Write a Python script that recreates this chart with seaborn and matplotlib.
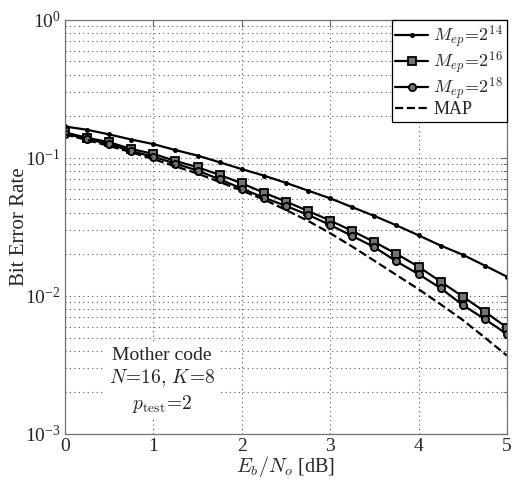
import numpy as np
import pandas as pd
import matplotlib
matplotlib.use("Agg")
import matplotlib.pyplot as plt
import seaborn as sns
from matplotlib.ticker import LogLocator, NullFormatter, FixedLocator

ebno = [0, 0.25, 0.5, 0.75, 1.0, 1.25, 1.5, 1.75, 2.0, 2.25, 2.5, 2.75,
        3.0, 3.25, 3.5, 3.75, 4.0, 4.25, 4.5, 4.75, 5.0]
ber_m14 = [0.169, 0.160, 0.148, 0.136, 0.126, 0.114, 0.104, 0.093, 0.083,
           0.0745, 0.066, 0.058, 0.051, 0.044, 0.038, 0.0325, 0.0275,
           0.0232, 0.0199, 0.0166, 0.0138]
ber_m16 = [0.153, 0.140, 0.130, 0.116, 0.107, 0.095, 0.0857, 0.0753, 0.0655,
           0.056, 0.0483, 0.0413, 0.0352, 0.0296, 0.0246, 0.0202, 0.0163,
           0.0127, 0.0099, 0.0077, 0.0059]
ber_m18 = [0.150, 0.137, 0.126, 0.112, 0.102, 0.091, 0.081, 0.070, 0.060,
           0.0516, 0.0449, 0.0387, 0.0327, 0.0272, 0.0226, 0.0178, 0.0144,
           0.0114, 0.0086, 0.0068, 0.0053]
ber_map = [0.148, 0.135, 0.122, 0.110, 0.098, 0.087, 0.077, 0.067, 0.058,
           0.050, 0.042, 0.035, 0.0285, 0.0228, 0.018, 0.0142, 0.0112,
           0.0087, 0.0067, 0.0050, 0.0037]
labels = [r"$M_{ep}\!=\!2^{14}$", r"$M_{ep}\!=\!2^{16}$", r"$M_{ep}\!=\!2^{18}$", "MAP"]
x_ticks = [0, 1, 2, 3, 4, 5]

sns.set_style("white")
plt.rcParams["font.family"] = ["Liberation Serif", "DejaVu Serif"]
plt.rcParams["mathtext.fontset"] = "cm"

fig = plt.figure(figsize=(5.12, 4.86), dpi=100)
ax = fig.add_axes([0.127, 0.107, 0.863, 0.852])

series = [ber_m14, ber_m16, ber_m18, ber_map]
styles = [
    dict(marker="o", markersize=2.8, linestyle="-", mfc="black", mec="black"),
    dict(marker="s", markersize=5.2, linestyle="-", mfc="0.45", mec="black", mew=1.3),
    dict(marker="o", markersize=5.2, linestyle="-", mfc="0.45", mec="black", mew=1.3),
    dict(marker=None, linestyle="--"),
]
for vals, lab, st in zip(series, labels, styles):
    df = pd.DataFrame({"x": ebno, "y": vals})
    sns.lineplot(data=df, x="x", y="y", ax=ax, color="black", linewidth=1.6,
                 label=lab, **st)

ax.set_yscale("log")
ax.set_xlim(0, 5)
ax.set_ylim(1e-3, 1)
ax.xaxis.set_major_locator(FixedLocator(x_ticks))
ax.yaxis.set_major_locator(LogLocator(base=10, numticks=10))
ax.yaxis.set_minor_locator(LogLocator(base=10, subs=np.arange(2, 10), numticks=20))
ax.yaxis.set_minor_formatter(NullFormatter())
grid_ls = (0, (1, 3))
ax.grid(True, which="major", axis="both", linestyle=grid_ls, color="0.35", linewidth=0.8)
ax.grid(True, which="minor", axis="y", linestyle=grid_ls, color="0.35", linewidth=0.8)
ax.tick_params(which="both", direction="in", top=True, right=True, labelsize=14,
               color="0.4", pad=3)
ax.tick_params(which="major", length=5)
ax.tick_params(which="minor", length=3)
for s in ax.spines.values():
    s.set_color("0.45")
    s.set_linewidth(0.9)

ax.set_xlabel(r"$E_b/N_o$ [dB]", fontsize=14.5, labelpad=-1)
ax.set_ylabel("Bit Error Rate", fontsize=15, labelpad=-3)

leg = ax.legend(loc="upper right", borderaxespad=0, fontsize=13, frameon=True,
                fancybox=False, edgecolor="black", framealpha=1,
                handlelength=1.8, handletextpad=0.3, labelspacing=-0.05,
                borderpad=0.2)
leg.get_frame().set_linewidth(0.9)

ax.text(1.1, 0.00242, "Mother code\n$N\\!=\\!16,\\,K\\!=\\!8$\n$p_{\\rm test}\\!=\\!2$",
        ha="center", va="center", fontsize=14, linespacing=1.2,
        bbox=dict(facecolor="white", edgecolor="none", pad=4))

fig.savefig("out.png", dpi=100)
